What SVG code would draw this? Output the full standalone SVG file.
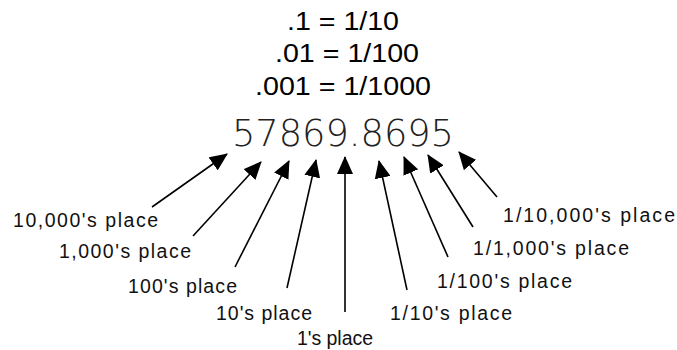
<svg xmlns="http://www.w3.org/2000/svg" width="677" height="350" viewBox="0 0 677 350">
<style>
.eq{font-family:"Liberation Sans",Arial,sans-serif;font-size:25px;fill:#000}
.num{font-family:"DejaVu Sans","Open Sans",sans-serif;font-weight:200;font-size:37px;fill:#222}
.lbl{font-family:"Liberation Sans",Arial,sans-serif;font-size:19.5px;fill:#111}
.arr{stroke:#000;stroke-width:1.6;fill:none;marker-end:url(#ah)}
</style>
<defs>
<marker id="ah" markerUnits="userSpaceOnUse" markerWidth="18" markerHeight="16" viewBox="0 0 18 16" refX="17" refY="8" orient="auto">
<path d="M0,0 L18,8 L0,16 Z" fill="#000"/>
</marker>
</defs>
<rect width="677" height="350" fill="#fff"/>
<g id="equations">
<text class="eq" x="287" y="30" textLength="112" lengthAdjust="spacingAndGlyphs">.1 = 1/10</text>
<text class="eq" x="275" y="62" textLength="144" lengthAdjust="spacingAndGlyphs">.01 = 1/100</text>
<text class="eq" x="255" y="95" textLength="176" lengthAdjust="spacingAndGlyphs">.001 = 1/1000</text>
</g>
<g id="number">
<text class="num" x="232" y="146" textLength="222" lengthAdjust="spacingAndGlyphs">57869.8695</text>
</g>
<g id="connectors">
<line class="arr" x1="152" y1="207" x2="227" y2="154"/>
<line class="arr" x1="193" y1="236" x2="261" y2="162"/>
<line class="arr" x1="235" y1="267" x2="289" y2="161"/>
<line class="arr" x1="287" y1="288" x2="316" y2="160"/>
<line class="arr" x1="345" y1="312" x2="345" y2="157"/>
<line class="arr" x1="407" y1="290" x2="379" y2="161"/>
<line class="arr" x1="448" y1="257" x2="404" y2="157"/>
<line class="arr" x1="473" y1="227" x2="428" y2="155"/>
<line class="arr" x1="497" y1="197" x2="459" y2="152"/>
</g>
<g id="label-10000"><text class="lbl" x="13" y="227" textLength="145" lengthAdjust="spacing">10,000's place</text></g>
<g id="label-1000"><text class="lbl" x="59" y="258" textLength="132" lengthAdjust="spacing">1,000's place</text></g>
<g id="label-100"><text class="lbl" x="128" y="293" textLength="109" lengthAdjust="spacing">100's place</text></g>
<g id="label-10"><text class="lbl" x="216" y="320" textLength="96" lengthAdjust="spacing">10's place</text></g>
<g id="label-1"><text class="lbl" x="297" y="345" textLength="76" lengthAdjust="spacing">1's place</text></g>
<g id="label-1-10"><text class="lbl" x="390" y="320" textLength="122" lengthAdjust="spacing">1/10's place</text></g>
<g id="label-1-100"><text class="lbl" x="437" y="288" textLength="135" lengthAdjust="spacing">1/100's place</text></g>
<g id="label-1-1000"><text class="lbl" x="473" y="255" textLength="156" lengthAdjust="spacing">1/1,000's place</text></g>
<g id="label-1-10000"><text class="lbl" x="503" y="222" textLength="172" lengthAdjust="spacing">1/10,000's place</text></g>
</svg>
